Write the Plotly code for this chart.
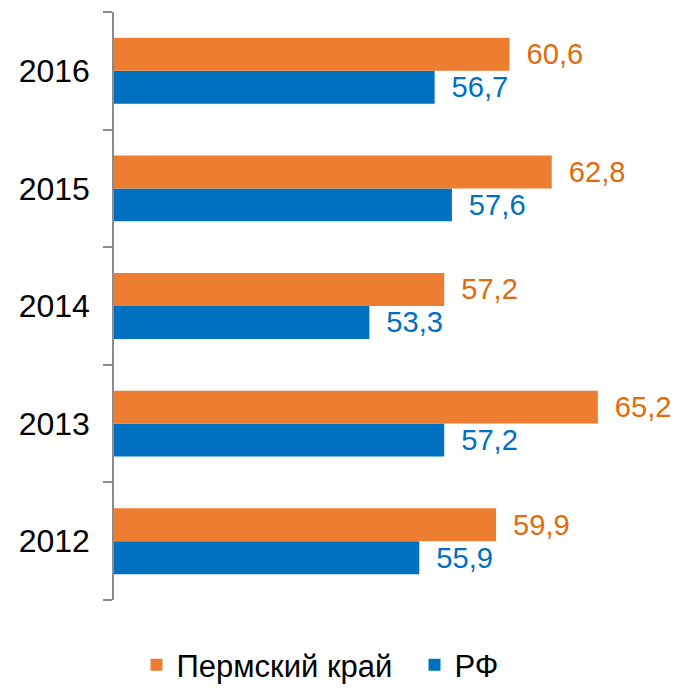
import plotly.graph_objects as go

years = ["2012", "2013", "2014", "2015", "2016"]
perm = [59.9, 65.2, 57.2, 62.8, 60.6]
rf = [55.9, 57.2, 53.3, 57.6, 56.7]
perm_labels = ["59,9", "65,2", "57,2", "62,8", "60,6"]
rf_labels = ["55,9", "57,2", "53,3", "57,6", "56,7"]

FONT = "Liberation Sans, Arial, sans-serif"

fig = go.Figure()
fig.add_trace(go.Bar(
    y=years, x=rf, orientation="h", name="РФ",
    marker=dict(color="#0070C0", line=dict(width=0)),
    text=rf_labels, texttemplate="\u2009 %{text}", textposition="outside", cliponaxis=False,
    textfont=dict(color="#0070C0", size=31, family=FONT),
    legendrank=2,
))
fig.add_trace(go.Bar(
    y=years, x=perm, orientation="h", name="Пермский край\u00a0\u00a0",
    marker=dict(color="#ED7D31", line=dict(width=0)),
    text=perm_labels, texttemplate="\u2009 %{text}", textposition="outside", cliponaxis=False,
    textfont=dict(color="#E26B0A", size=31, family=FONT),
    legendrank=1,
))

fig.update_layout(
    width=679, height=688,
    margin=dict(l=106, r=8, t=4, b=96, autoexpand=False),
    paper_bgcolor="white", plot_bgcolor="white",
    barmode="group", bargap=0.44, bargroupgap=0,
    font=dict(family=FONT, color="black"),
    showlegend=True,
    legend=dict(
        orientation="h", xref="container", yref="container",
        x=0.4595, xanchor="center", y=0.045, yanchor="middle",
        font=dict(size=31, color="black", family=FONT),
        itemwidth=30, tracegroupgap=0,
    ),
    xaxis=dict(range=[40, 40 + 565 / 19.2], visible=False, showgrid=False, zeroline=False, automargin=False),
    yaxis=dict(
        type="category", categoryorder="array", categoryarray=years,
        showline=True, linecolor="#8C8C8C", linewidth=1.5,
        ticks="outside", tickson="boundaries", ticklen=9, tickcolor="#8C8C8C", tickwidth=1.5,
        tickfont=dict(size=32, color="black", family=FONT),
        ticklabelstandoff=16, automargin=False,
        showgrid=False,
    ),
)

fig.write_html("out.html")
